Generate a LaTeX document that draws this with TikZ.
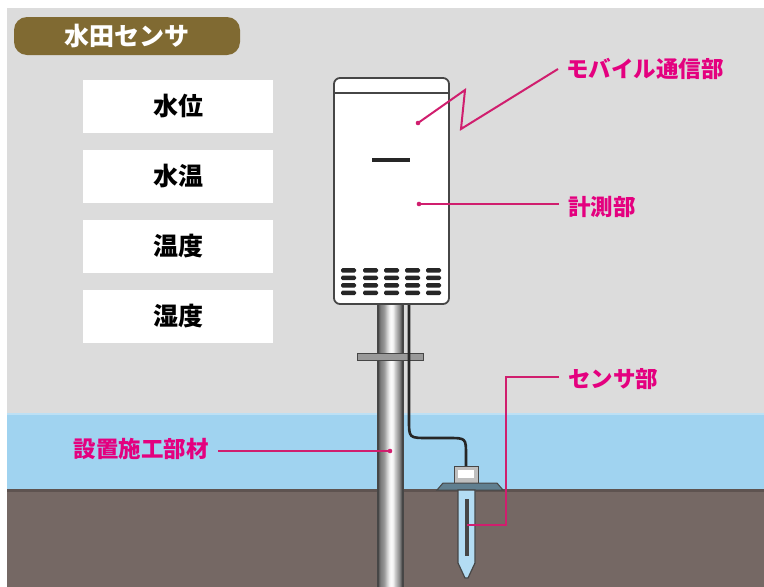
\documentclass[tikz,border=0pt]{standalone}
\usepackage{fontspec}
\setmainfont{Noto Sans CJK JP}
\definecolor{skygray}{RGB}{220,220,220}
\definecolor{water}{RGB}{160,211,240}
\definecolor{soil}{RGB}{117,104,100}
\definecolor{olive}{RGB}{128,106,50}
\definecolor{pinktext}{RGB}{228,0,127}
\definecolor{pinkline}{RGB}{208,30,110}
\definecolor{edge}{RGB}{70,70,70}
\tikzset{
  itembox/.style={fill=white, minimum width=190pt, minimum height=53pt, inner sep=0pt,
    font=\fontsize{25}{28}\selectfont\bfseries},
  callout/.style={text=pinktext, font=\fontsize{22.5}{25}\selectfont\bfseries, inner sep=0pt},
  leader/.style={draw=pinkline, line width=2pt, line join=miter},
  pindot/.style={fill=pinkline},
  cable/.style={draw=black!85, line width=2.6pt, line cap=round},
  vent/.style={fill=black!85, rounded corners=1.5pt},
}
\begin{document}
\begin{tikzpicture}[x=1pt,y=-1pt]
\useasboundingbox (0,0) rectangle (764,587);
\fill[white] (0,0) rectangle (764,587);
% sky, water and soil bands
\fill[skygray] (7,8) rectangle (764,413);
\fill[water] (7,413) rectangle (764,490);
\fill[water!70!white] (7,413) rectangle (764,415);
\fill[soil] (7,490) rectangle (764,587);
\fill[soil!80!black] (7,489) rectangle (764,492);

% title badge
\node[fill=olive, rounded corners=13pt, minimum width=226pt, minimum height=38pt,
  text=white, font=\fontsize{25}{28}\selectfont\bfseries, inner sep=0pt]
  (title) at (127,36) {水田センサ};

% measured quantities
\node[itembox] (b1) at (178,106.5) {水位};
\node[itembox] (b2) at (178,176.5) {水温};
\node[itembox] (b3) at (178,246.5) {温度};
\node[itembox] (b4) at (178,316.5) {湿度};

% mounting pole, shaded strip by strip (metal tube)
\foreach \i/\g in {0/72,1/62,2/55,3/50,4/47,5/44,6/40,7/34,8/27,9/20,10/14,11/8,12/4,
  13/2,14/3,15/6,16/12,17/20,18/26,19/32,20/38,21/44,22/52,23/62,24/70}{
  \fill[black!\g] (378+\i,300) rectangle (379.2+\i,587);
}
\draw[edge, line width=1.2pt] (378,300) -- (378,587) (403,300) -- (403,587);
% clamp plate
\draw[edge, fill=black!40, line width=1pt] (357,353) rectangle (423,360);

% cable from logger to probe
\draw[cable] (409,303) -- (409,420) .. controls (409,438) .. (428,438)
  -- (448,438) .. controls (466,438) .. (466,455) -- (466,467);

% probe head, flange and spike
\draw[edge, fill=black!25, line width=1pt] (454,466) rectangle (478,483);
\fill[white] (458,470) rectangle (474,478);
\draw[edge, fill=black!40!water, line width=1pt]
  (443,483) -- (497,483) -- (503,490) -- (437,490) -- cycle;
\draw[edge, fill=water!80!white, line width=1.2pt]
  (458,490) -- (475,490) -- (475,563) -- (468,578) -- (465,578) -- (458,563) -- cycle;
\fill[edge] (464.5,499) rectangle (468.5,556);

% logger housing
\draw[edge, fill=white, line width=1.8pt, rounded corners=6pt] (334,78) rectangle (449,304);
\draw[edge, line width=1.2pt] (335,93) -- (448,93);
\fill[black!85] (372,158) rectangle (410,162);
\foreach \x in {341,363,384,405,426}{
  \foreach \y in {268,275.5,283,290.5}{
    \fill[vent] (\x,\y) rectangle ++(15,4.5);
  }
}

% callouts
\node[callout, anchor=west] (mobile) at (566,69) {モバイル通信部};
\node[callout, anchor=west] (meter) at (568,207) {計測部};
\node[callout, anchor=west] (probe) at (568,379) {センサ部};
\node[callout, anchor=east] (mount) at (209,449) {設置施工部材};

\coordinate (pm) at (418,123);
\coordinate (pc) at (419,204);
\coordinate (ps) at (467,525);
\coordinate (pp) at (390,451);
\coordinate (sk) at (506,377);

\draw[leader] (pm) -- (465,90) -- (461,129) -- ([xshift=-8pt]mobile.west);
\draw[leader] (pc) -- ([xshift=-9pt]meter.west |- pc);
\draw[leader] ([xshift=-9pt]probe.west |- sk) -- (sk) -- (sk |- ps) -- (ps);
\draw[leader] ([xshift=9pt]mount.east |- pp) -- (pp);
\foreach \p in {pm,pc,pp}{ \fill[pindot] (\p) circle (2.3pt); }
\end{tikzpicture}
\end{document}
